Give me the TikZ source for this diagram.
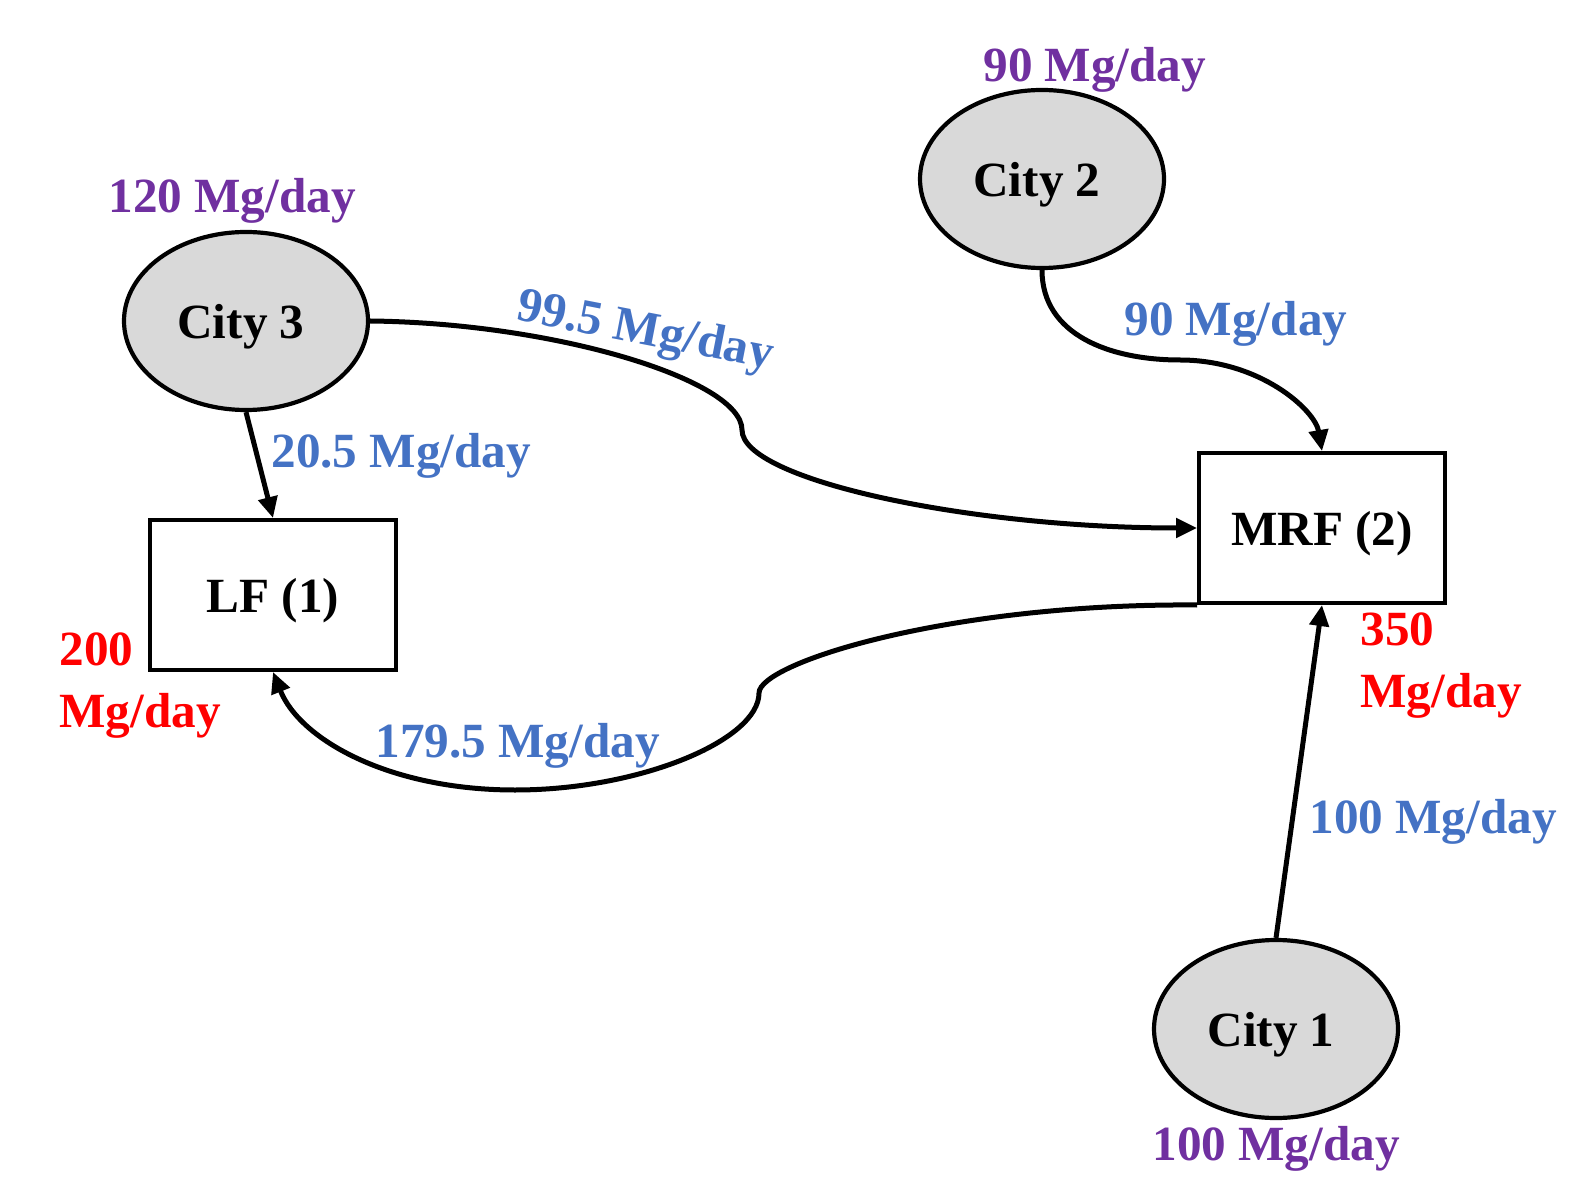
\documentclass[tikz,border=0pt]{standalone}
\usepackage{fontspec}
\setmainfont{Liberation Serif}
\usetikzlibrary{arrows.meta,shapes.geometric}
\definecolor{flowblue}{HTML}{4472C4}
\definecolor{genpurple}{HTML}{7030A0}
\definecolor{capred}{HTML}{FF0000}
\definecolor{cityfill}{HTML}{D9D9D9}
\newcommand{\boxtext}[1]{\raisebox{-3pt}[\height][\depth]{#1}}
\newcommand{\citytext}[1]{\raisebox{-3pt}[\height][\depth]{\hspace*{-5pt}#1}}
\begin{document}
\begin{tikzpicture}[x=0.5pt,y=-0.5pt,
  txt/.style={font=\fontsize{24.6}{31}\selectfont\bfseries, inner sep=0pt},
  city/.style={ellipse, draw=black, line width=2.1pt, fill=cityfill, minimum width=122pt, minimum height=89pt, inner sep=0pt, txt},
  facility/.style={rectangle, draw=black, line width=2pt, fill=white, minimum width=123pt, minimum height=75pt, inner sep=0pt, txt},
  flow/.style={draw=black, line width=2.5pt, -{Triangle[length=10.5pt,width=9.5pt]}},
  flowlbl/.style={txt, text=flowblue, anchor=west},
  genlbl/.style={txt, text=genpurple, anchor=west},
  caplbl/.style={txt, text=capred, anchor=west, align=left}
]
\useasboundingbox (0,0) rectangle (1582,1186);

% nodes
\node[city] (c3) at (246,321) {\citytext{City 3}};
\node[city] (c2) at (1042,179) {\citytext{City 2}};
\node[city] (c1) at (1276,1029) {\citytext{City 1}};
\node[facility] (lf) at (273,595) {\boxtext{LF (1)}};
\node[facility] (mrf) at (1322,528) {\boxtext{MRF (2)}};

% helper coordinates
\coordinate (m1) at (742,430);
\coordinate (m2) at (1180,360);
\coordinate (m3) at (759,693);
\coordinate (m4) at (515,790);

% connectors
\draw[flow] (c3.south) -- (lf.north);
\draw[flow] (c3.east) .. controls (555,323) and (742,380) .. (m1)
                      .. controls (742,480) and (970,528) .. (mrf.west);
\draw[flow] (c2.south) .. controls (1042,335) and (1110,360) .. (m2)
                       .. controls (1260,360) and (1315,410) .. (mrf.north);
\draw[flow] (c1.north) -- (mrf.south);
\draw[flow] (mrf.south west) .. controls (949,603) and (759,663) .. (m3)
                             .. controls (759,740) and (640,790) .. (m4)
                             .. controls (390,790) and (300,740) .. (lf.south);

% generation labels
\node[genlbl] (g3) at (108,201) {120 Mg/day};
\node[genlbl] (g2) at (983,70) {90 Mg/day};
\node[genlbl] (g1) at (1152,1149) {100 Mg/day};

% flow labels
\node[flowlbl] (f31) at (271,456) {20.5 Mg/day};
\node[txt, text=flowblue, rotate=-11] (f32) at (645,333) {99.5 Mg/day};
\node[flowlbl] (f22) at (1124,324) {90 Mg/day};
\node[flowlbl] (f21) at (375,746) {179.5 Mg/day};
\node[flowlbl] (f12) at (1309,822) {100 Mg/day};

% capacity labels
\node[caplbl] (cap1) at (59,686) {200\\Mg/day};
\node[caplbl] (cap2) at (1360,666) {350\\Mg/day};
\end{tikzpicture}
\end{document}
